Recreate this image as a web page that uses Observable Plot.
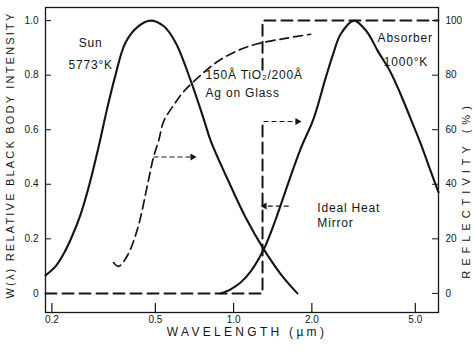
<!DOCTYPE html>
<html><head><meta charset="utf-8">
<script src="https://cdn.jsdelivr.net/npm/d3@7"></script>
<script src="https://cdn.jsdelivr.net/npm/@observablehq/plot@0.6"></script>
<style>
body{margin:0;background:#fff}
#chart svg{font-family:"Liberation Sans",Arial,sans-serif;background:#fff}
g[aria-description="xtitle"] text{letter-spacing:3.3px}
g[aria-description="ytitle"] text{letter-spacing:2.2px}
g[aria-description="rtitle"] text{letter-spacing:5px}
g[aria-description="note"] text{letter-spacing:0.8px}
</style></head><body><div id="chart"></div>
<script>
// Sun, 5773 K black body (relative intensity)
const sunWavelength = [0.189,0.207,0.222,0.238,0.258,0.279,0.303,0.325,0.349,0.384,0.431,0.480,0.538,0.598,0.684,0.767,0.816,0.957,1.11,1.30,1.52,1.76];
const sunIntensity  = [0.066,0.10,0.145,0.205,0.29,0.40,0.54,0.67,0.79,0.92,0.98,1.0,0.98,0.92,0.78,0.64,0.56,0.41,0.28,0.165,0.07,0.0];
// Absorber, 1000 K black body
const absorberWavelength = [0.891,0.974,1.064,1.162,1.304,1.45,1.63,1.81,2.03,2.26,2.42,2.58,2.90,3.25,3.58,4.02,4.39,4.80,5.24,5.72,6.14];
const absorberIntensity  = [0,0.015,0.04,0.08,0.16,0.27,0.41,0.53,0.64,0.79,0.88,0.95,1.0,0.96,0.89,0.81,0.73,0.64,0.55,0.45,0.37];
// 150 Å TiO2 / 200 Å Ag on glass reflectivity (fraction)
const tio2Wavelength   = [0.345,0.361,0.391,0.428,0.467,0.492,0.515,0.538,0.588,0.643,0.747,0.868,1.036,1.237,1.585,1.98];
const tio2Reflectivity = [0.113,0.099,0.14,0.24,0.40,0.50,0.56,0.63,0.69,0.74,0.80,0.85,0.89,0.915,0.935,0.95];
// Ideal heat mirror (step), gap where the label sits
const mirrorWavelength   = [0.189,1.292,1.292,1.292,1.292,1.292,6.14];
const mirrorReflectivity = [0,0,0.63,NaN,0.82,1.0,1.0];
// Pointer arrows
const arrowFrom  = [0.492,1.304,1.63];
const arrowTo    = [0.695,1.76,1.315];
const arrowLevel = [0.50,0.63,0.32];
// Ticks
const xTicks = [0.2,0.5,1.0,2.0,5.0];
const xTickLabels = ["0.2","0.5","1.0","2.0","5.0"];
const yTicks = [0,0.2,0.4,0.6,0.8,1.0];
const yTickLabels = ["0","0.2","0.4","0.6","0.8","1.0"];
const rTickLabels = ["0","20","40","60","80","100"];
// Annotations
const centerText = ["Sun","5773°K"];
const centerX = [0.282,0.282];
const centerY = [0.916,0.835];
const noteText = ["Absorber","1000°K","150Å TiO₂/200Å","Ag on Glass","Ideal Heat","Mirror"];
const noteX = [3.58,3.78,0.78,0.78,2.10,2.10];
const noteY = [0.934,0.846,0.80,0.733,0.311,0.256];
const xTitle = "WAVELENGTH (µm)";
const yTitle = "W(λ) RELATIVE BLACK BODY INTENSITY";
const rTitle = "REFLECTIVITY (%)";

const zip = (a,b) => a.map((v,i) => ({x:v, y:b[i]}));
const sun = zip(sunWavelength, sunIntensity);
const absorber = zip(absorberWavelength, absorberIntensity);
const tio2 = zip(tio2Wavelength, tio2Reflectivity);
const mirror = zip(mirrorWavelength, mirrorReflectivity);
const arrows = arrowFrom.map((f,i) => ({from:f, to:arrowTo[i], y:arrowLevel[i]}));
const centers = centerText.map((t,i) => ({t, x:centerX[i], y:centerY[i]}));
const notes = noteText.map((t,i) => ({t, x:noteX[i], y:noteY[i]}));
const xt = xTicks.map((v,i) => ({v, label: xTickLabels[i]}));
const yt = yTicks.map((v,i) => ({v, left: yTickLabels[i], right: rTickLabels[i]}));

const W = 474, H = 351, mL = 45, mR = 36, mT = 7, mB = 39;
const fw = W - mL - mR, fh = H - mT - mB;
const ink = "#151515";

const chart = Plot.plot({
  width: W, height: H,
  marginLeft: mL, marginRight: mR, marginTop: mT, marginBottom: mB,
  x: {type: "log", domain: [0.189, 6.14], label: null, axis: null},
  y: {domain: [-0.07, 1.048], label: null, axis: null},
  style: {fontSize: "10px", color: ink},
  marks: [
    Plot.frame({stroke: ink, strokeWidth: 1.3}),
    Plot.text(xt, {x: "v", text: "label", frameAnchor: "bottom", textAnchor: "middle", lineAnchor: "top", dy: 3, fontSize: 10, fill: ink}),
    Plot.text(yt, {y: "v", text: "left", frameAnchor: "left", textAnchor: "end", dx: -7, fontSize: 10, fill: ink}),
    Plot.text(yt, {y: "v", text: "right", frameAnchor: "right", textAnchor: "start", dx: 7, fontSize: 10, fill: ink}),
    Plot.tickX(xt, {x: "v", insetTop: fh - 9, stroke: ink, strokeWidth: 1.2}),
    Plot.tickY(yt, {y: "v", insetRight: fw - 6, stroke: ink, strokeWidth: 1}),
    Plot.tickY(yt, {y: "v", insetLeft: fw - 6, stroke: ink, strokeWidth: 1}),
    Plot.line(mirror, {x: "x", y: "y", stroke: ink, strokeWidth: 2, strokeDasharray: "11,6"}),
    Plot.line(tio2, {x: "x", y: "y", stroke: ink, strokeWidth: 1.7, strokeDasharray: "9,5", curve: "catmull-rom"}),
    Plot.line(sun, {x: "x", y: "y", stroke: ink, strokeWidth: 2.1, curve: "catmull-rom"}),
    Plot.line(absorber, {x: "x", y: "y", stroke: ink, strokeWidth: 2.1, curve: "catmull-rom"}),
    Plot.link(arrows, {x1: "from", x2: "to", y1: "y", y2: "y", stroke: ink, strokeWidth: 1.1, strokeDasharray: "5,3"}),
    Plot.dot(arrows, {x: "to", y: "y", symbol: "triangle", r: 2.6, fill: ink, stroke: "none", rotate: d => d.to > d.from ? 90 : -90}),
    Plot.text(centers, {x: "x", y: "y", text: "t", fontSize: 12, fill: ink, textAnchor: "middle", ariaDescription: "note"}),
    Plot.text(notes, {x: "x", y: "y", text: "t", fontSize: 12, fill: ink, textAnchor: "start", ariaDescription: "note"}),
    Plot.text([xTitle], {text: d => d, frameAnchor: "bottom", textAnchor: "middle", dx: 5, dy: 23, fontSize: 12, fill: ink, ariaDescription: "xtitle"}),
    Plot.text([yTitle], {text: d => d, frameAnchor: "left", textAnchor: "middle", rotate: -90, dx: -35, dy: -5, fontSize: 11, fill: ink, ariaDescription: "ytitle"}),
    Plot.text([rTitle], {text: d => d, frameAnchor: "right", textAnchor: "middle", rotate: -90, dx: 28, dy: 30, fontSize: 11, fill: ink, ariaDescription: "rtitle"})
  ]
});
document.getElementById("chart").appendChild(chart);
</script></body></html>
